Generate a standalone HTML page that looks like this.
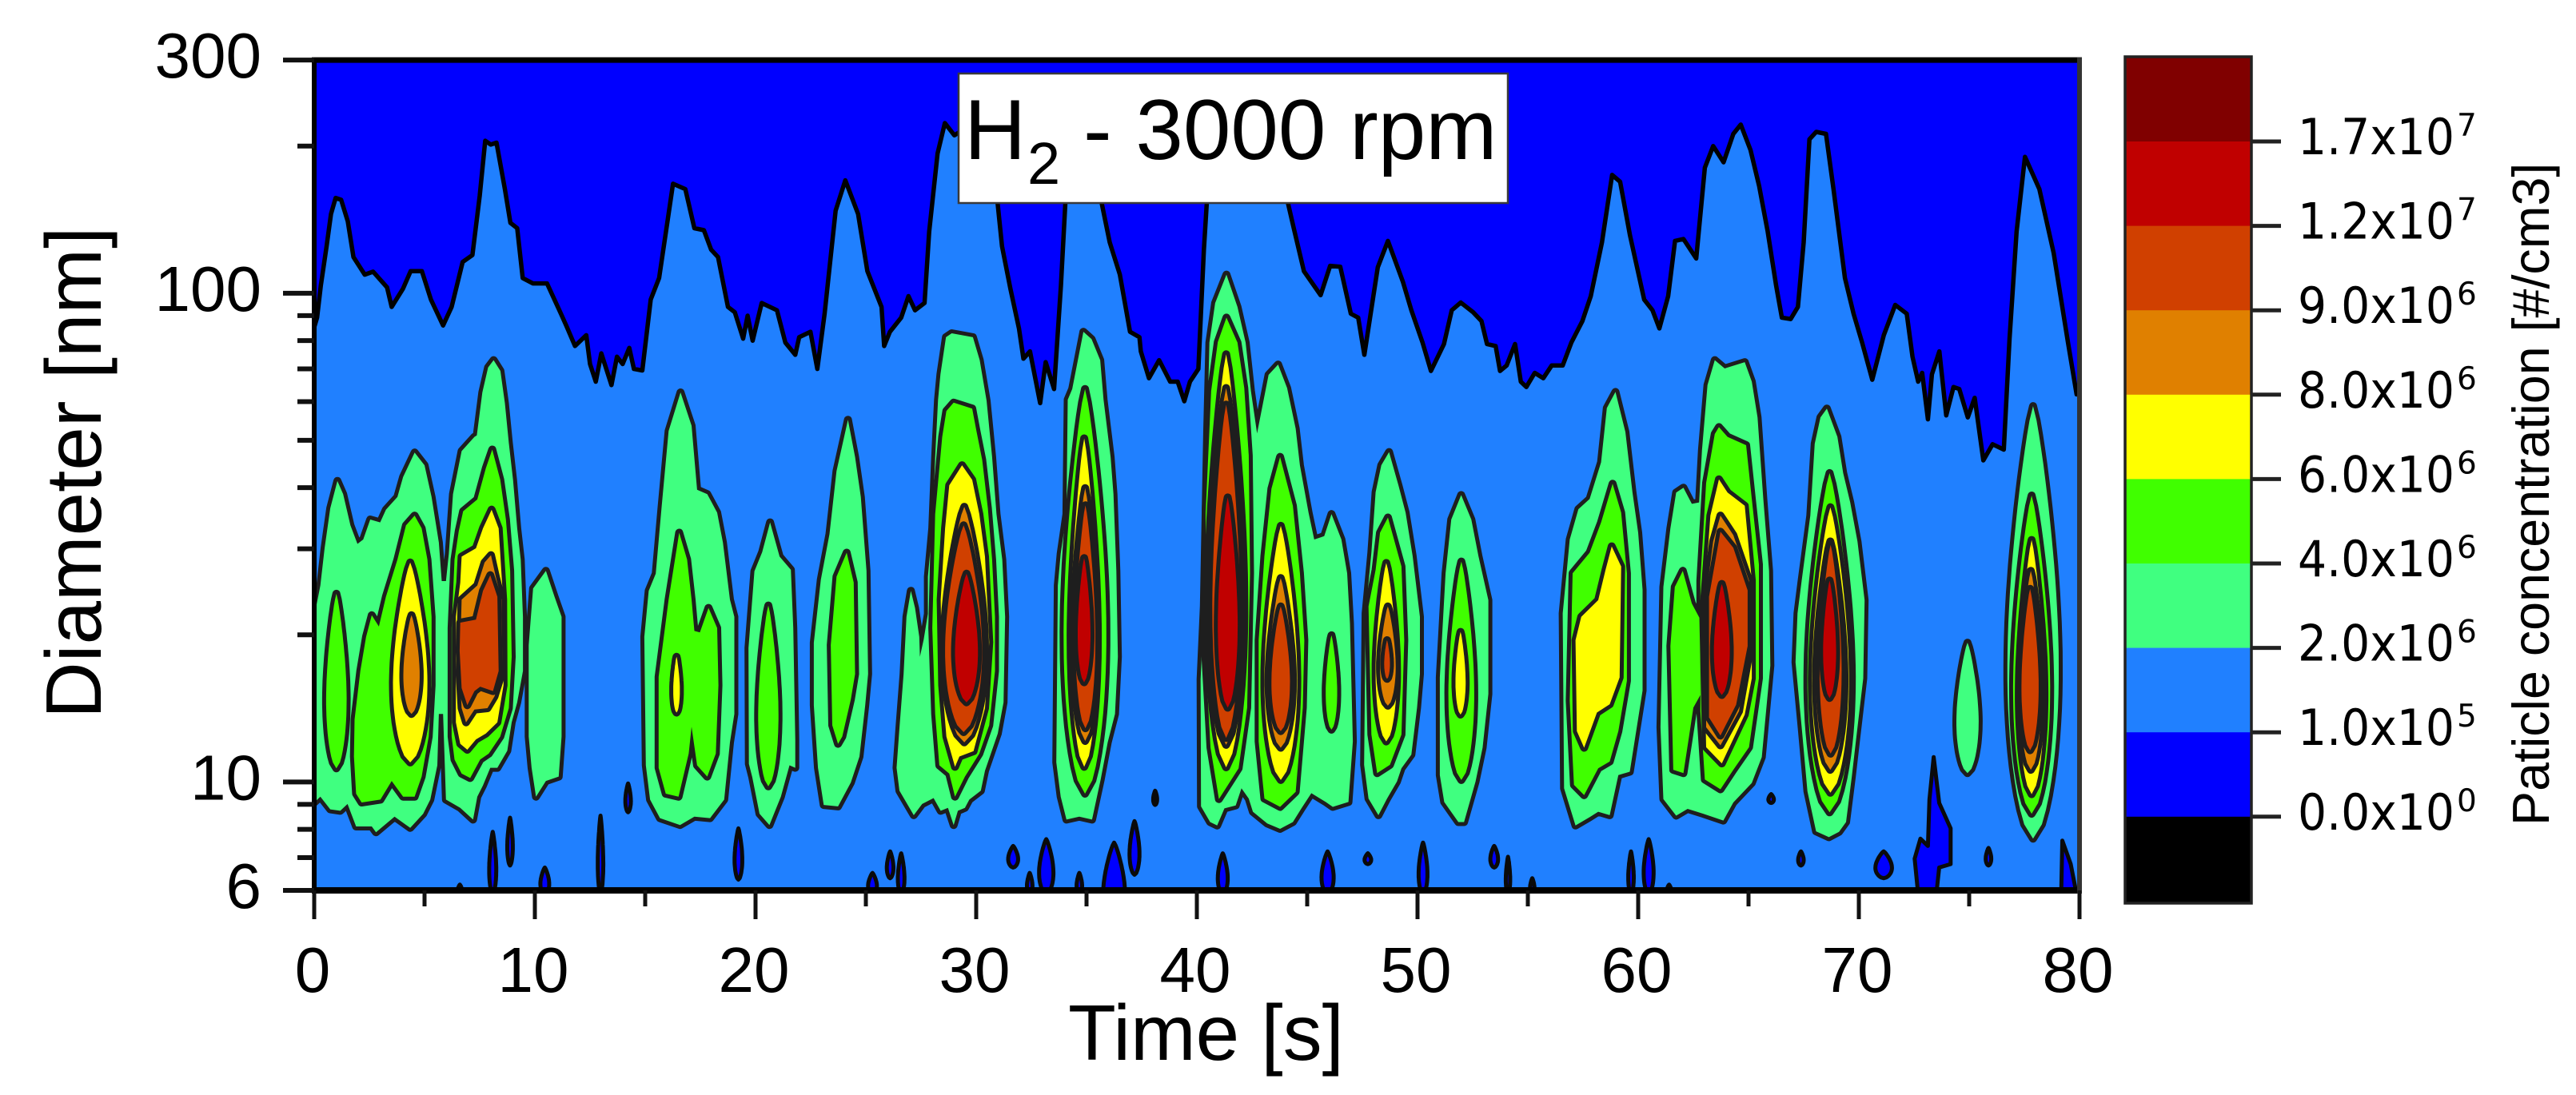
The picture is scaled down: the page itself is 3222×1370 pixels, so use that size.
<!DOCTYPE html>
<html lang="en">
<head>
<meta charset="utf-8">
<title>H2 - 3000 rpm particle concentration contour</title>
<style>
html,body{margin:0;padding:0;background:#fff;}
svg{display:block;}
text{font-family:"Liberation Sans",sans-serif;fill:#000;}
</style>
</head>
<body>
<svg id="chart" xmlns="http://www.w3.org/2000/svg" width="3222" height="1370" viewBox="0 0 3222 1370">
  <defs><clipPath id="plot-clip"><rect x="393" y="75" width="2208" height="1039"/></clipPath></defs>
  <rect x="0" y="0" width="3222" height="1370" fill="#fff"/>
  <g id="plot-marks" clip-path="url(#plot-clip)"></g>
  <g id="axes"></g>
  <g id="colorbar"></g>
  <g>
    <rect x="1199" y="92" width="687" height="162" fill="#fff" stroke="#3a3a3a" stroke-width="2.5"/>
    <text x="1206" y="199" font-size="107">H</text>
    <text x="1285" y="230" font-size="74">2</text>
    <text x="1355" y="199" font-size="107">- 3000 rpm</text>
  </g>
  <text transform="translate(126,899) rotate(-90)" font-size="98">Diameter [nm]</text>
  <text x="1336" y="1326" font-size="98">Time [s]</text>
  <text transform="translate(3188,1033) rotate(-90)" font-size="64.6">Paticle concentration [#/cm3]</text>
</svg>
<script>
// All contour data: [time in s, log10(diameter in nm)].
// Leaves: [time left, time right, log10 top, log10 bottom].

const xMajorTicks = [0, 10, 20, 30, 40, 50, 60, 70, 80];
const xMinorTicks = [5, 15, 25, 35, 45, 55, 65, 75];
const yMajorTicks = [300, 100, 10, 6];
const yMinorTicks = [200, 90, 80, 70, 60, 50, 40, 30, 20, 9, 8, 7];
const colorbarMantissas = ['1.7', '1.2', '9.0', '8.0', '6.0', '4.0', '2.0', '1.0', '0.0'];
const colorbarExponents = ['7', '7', '6', '6', '6', '6', '6', '5', '0'];

const upperContour = [[0,1.93],[.13,1.95],[.3,2.016],[.56,2.096],[.76,2.162],[.97,2.195],[1.22,2.191],[1.52,2.147],[1.78,2.074],[2.29,2.038],[2.67,2.044],[3.3,2.012],[3.51,1.972],[4.02,2.009],[4.37,2.045],[4.88,2.045],[5.29,1.987],[5.84,1.934],[6.23,1.972],[6.73,2.064],[7.17,2.078],[7.5,2.199],[7.75,2.312],[8,2.304],[8.26,2.308],[8.64,2.213],[8.89,2.144],[9.2,2.133],[9.45,2.031],[9.91,2.02],[10.55,2.02],[11.18,1.958],[11.44,1.932],[11.82,1.892],[12.33,1.914],[12.5,1.855],[12.76,1.819],[13.01,1.877],[13.47,1.812],[13.72,1.87],[13.98,1.855],[14.28,1.888],[14.49,1.845],[14.87,1.842],[15.25,1.987],[15.63,2.031],[16.01,2.147],[16.26,2.224],[16.82,2.213],[17.23,2.133],[17.66,2.129],[17.99,2.089],[18.3,2.074],[18.75,1.972],[19.06,1.961],[19.44,1.907],[19.64,1.954],[19.87,1.903],[20.28,1.98],[20.97,1.965],[21.35,1.899],[21.8,1.874],[21.98,1.91],[22.49,1.921],[22.8,1.845],[23.13,1.958],[23.63,2.169],[24.07,2.231],[24.65,2.162],[25.07,2.045],[25.71,1.972],[25.83,1.892],[26.09,1.921],[26.6,1.95],[26.93,1.994],[27.23,1.965],[27.66,1.98],[27.87,2.126],[28.25,2.286],[28.58,2.348],[29.01,2.323],[29.6,2.34],[30.4,2.3],[30.97,2.184],[31.17,2.096],[31.55,2.009],[31.94,1.928],[32.14,1.866],[32.44,1.881],[32.9,1.775],[33.15,1.859],[33.53,1.804],[33.84,2.016],[34.04,2.184],[34.4,2.3],[35,2.32],[35.5,2.25],[35.69,2.184],[36.05,2.104],[36.51,2.038],[36.97,1.921],[37.4,1.91],[37.46,1.881],[37.83,1.826],[38.29,1.863],[38.79,1.819],[39.13,1.819],[39.43,1.779],[39.69,1.819],[40.07,1.845],[40.32,2.089],[40.45,2.184],[41,2.3],[43.5,2.3],[44.13,2.184],[44.39,2.133],[44.85,2.045],[45.61,1.996],[46.04,2.056],[46.5,2.054],[46.98,1.958],[47.31,1.95],[47.59,1.874],[48.2,2.053],[48.66,2.107],[49.34,2.023],[49.72,1.965],[50.23,1.899],[50.61,1.841],[51.2,1.896],[51.55,1.965],[51.96,1.981],[52.52,1.961],[52.9,1.943],[53.15,1.896],[53.54,1.892],[53.74,1.841],[54.04,1.852],[54.42,1.896],[54.68,1.819],[54.93,1.808],[55.31,1.837],[55.7,1.826],[56.08,1.852],[56.58,1.852],[56.97,1.899],[57.47,1.943],[57.85,1.994],[58.36,2.104],[58.82,2.242],[59.18,2.228],[59.63,2.118],[60.27,1.987],[60.65,1.965],[60.96,1.928],[61.36,1.994],[61.67,2.107],[62.05,2.111],[62.63,2.071],[63.02,2.257],[63.4,2.301],[63.87,2.268],[64.31,2.326],[64.65,2.345],[65.09,2.293],[65.48,2.22],[65.87,2.126],[66.25,2.016],[66.51,1.95],[66.91,1.947],[67.24,1.972],[67.5,2.104],[67.76,2.315],[68.07,2.33],[68.51,2.326],[68.85,2.213],[69.37,2.031],[69.76,1.958],[70.15,1.899],[70.61,1.823],[71.13,1.914],[71.65,1.976],[72.17,1.958],[72.43,1.87],[72.69,1.819],[72.87,1.837],[73.13,1.742],[73.31,1.834],[73.65,1.881],[73.96,1.75],[74.29,1.808],[74.55,1.804],[74.94,1.746],[75.25,1.786],[75.64,1.658],[76.06,1.691],[76.57,1.68],[76.83,1.907],[77.15,2.126],[77.53,2.279],[78.18,2.213],[78.83,2.082],[79.48,1.899],[79.87,1.793],[80,1.793]];

const lowIslandLeaves = [[7.93,8.25,.898,.77],[8.75,9,.927,.829],[10.25,10.65,.825,.77],[12.85,13.1,.931,.77],[14.1,14.35,.997,.938],[19.05,19.4,.905,.8],[25.1,25.5,.814,.77],[6.5,6.7,.79,.77],[25.95,26.25,.858,.803],[26.45,26.75,.854,.77],[31.45,31.9,.869,.825],[32.3,32.55,.814,.77],[32.85,33.5,.883,.77],[34.55,34.8,.814,.77],[35.75,36.75,.876,.7],[36.95,37.4,.92,.81],[38.02,38.2,.982,.953],[40.95,41.4,.854,.77],[45.65,46.2,.858,.77],[47.6,47.9,.854,.832],[50.05,50.45,.876,.77],[53.3,53.65,.869,.825],[54,54.2,.847,.77],[55.1,55.3,.803,.77],[59.55,59.8,.858,.77],[60.25,60.7,.883,.77],[61.3,61.5,.79,.77],[65.9,66.15,.975,.957],[67.25,67.5,.858,.829],[70.75,71.5,.858,.803],[75.75,76,.865,.829]];
const lowIslandOutlines = [
 [[73.39,1.051],[73.64,.957],[74.16,.905],[74.16,.832],[73.64,.825],[73.51,.77],[72.69,.77],[72.53,.843],[72.79,.884],[73.13,.869],[73.2,.964]],
 [[79.22,.88],[79.6,.832],[79.87,.77],[79.17,.77]]
];

const mintLeaves = [[74.42,75.43,1.285,1.018],[76.73,79.06,1.769,.884]];
const mintOutlines = [
 [[0,1.338],[.28,1.402],[.47,1.478],[.73,1.56],[1.05,1.616],[1.31,1.589],[1.64,1.525],[1.96,1.487],[2.22,1.496],[2.54,1.537],[2.99,1.531],[3.25,1.557],[3.77,1.583],[4.03,1.624],[4.55,1.674],[5,1.648],[5.32,1.583],[5.65,1.49],[5.78,1.411],[5.97,1.411],[6.1,1.467],[6.29,1.589],[6.68,1.677],[7.26,1.706],[7.37,1.709],[7.62,1.797],[7.88,1.848],[8.13,1.863],[8.44,1.841],[8.64,1.775],[8.82,1.694],[9.01,1.618],[9.2,1.519],[9.36,1.455],[9.46,1.338],[9.46,1.227],[9.2,1.163],[8.95,1.122],[8.75,1.064],[8.3,1.029],[7.98,1.029],[7.65,.993],[7.39,.97],[7.2,.923],[6.62,.947],[5.97,.964],[5.84,1.139],[5.65,1.139],[5.58,1.034],[5.26,.964],[4.94,.935],[4.35,.906],[3.64,.929],[2.8,.897],[2.61,.909],[1.9,.909],[1.51,.955],[1.18,.941],[.73,.944],[.28,.97],[0,.958],[-1,.958],[-1,1.338]],
 [[10.5,1.432],[10.89,1.379],[11.21,1.338],[11.21,1.093],[11.08,1.011],[10.5,1.002],[10.05,.97],[9.85,1.029],[9.72,1.093],[9.72,1.28],[9.92,1.396]],
 [[16.6,1.797],[17.1,1.729],[17.35,1.598],[17.81,1.589],[18.26,1.551],[18.52,1.49],[18.84,1.373],[19.04,1.338],[19.04,1.139],[18.84,1.081],[18.58,.964],[17.94,.926],[17.23,.929],[16.58,.912],[15.67,.926],[15.22,.964],[15.03,1.034],[14.96,1.297],[15.16,1.391],[15.48,1.426],[15.74,1.56],[16.06,1.718]],
 [[20.66,1.531],[21.09,1.461],[21.6,1.434],[21.71,1.315],[21.8,1.087],[21.8,1.029],[21.54,1.034],[21.15,.97],[20.63,.912],[20.18,.935],[19.85,1.01],[19.7,1.037],[19.68,1.274],[19.95,1.431],[20.3,1.47]],
 [[24.19,1.741],[24.51,1.665],[24.77,1.583],[25.03,1.432],[25.1,1.221],[24.97,1.157],[24.71,1.052],[24.32,.999],[23.74,.95],[23.09,.953],[22.83,1.029],[22.64,1.157],[22.64,1.285],[22.96,1.414],[23.35,1.507],[23.67,1.636]],
 [[26.39,1.029],[26.52,1.11],[26.71,1.221],[26.84,1.338],[27.04,1.391],[27.23,1.356],[27.42,1.297],[27.45,1.256],[27.62,1.291],[27.81,1.344],[27.81,1.42],[28.01,1.519],[28.14,1.665],[28.27,1.782],[28.38,1.834],[28.63,1.91],[28.89,1.918],[29.85,1.91],[30.16,1.863],[30.47,1.78],[30.72,1.665],[30.92,1.548],[31.18,1.455],[31.31,1.338],[31.24,1.163],[30.98,1.099],[30.4,1.023],[30.21,.982],[29.69,.964],[29.49,.947],[29.17,.941],[28.98,.912],[28.72,.947],[28.39,.941],[28.07,.967],[27.55,.955],[27.17,.932],[26.52,.982]],
 [[34.86,1.921],[34.35,1.804],[34.15,1.782],[34.09,1.548],[33.83,1.467],[33.7,1.402],[33.63,1.04],[33.83,.97],[34.09,.923],[34.67,.929],[35.25,.923],[35.64,1.005],[35.96,1.081],[36.29,1.139],[36.42,1.256],[36.35,1.432],[36.22,1.589],[36.09,1.665],[35.77,1.782],[35.62,1.863],[35.23,1.906]],
 [[40.19,.95],[40.17,1.21],[40.32,1.36],[40.4,1.55],[40.47,1.72],[40.57,1.899],[40.83,1.98],[41.34,2.038],[41.84,1.972],[42.21,1.899],[42.45,1.8],[42.73,1.713],[43.25,1.833],[43.68,1.854],[44.09,1.806],[44.48,1.723],[44.67,1.648],[45.06,1.551],[45.32,1.496],[45.77,1.503],[46.1,1.548],[46.55,1.496],[46.81,1.427],[46.94,1.324],[47.07,1.083],[46.87,.959],[46.16,.949],[45.84,.959],[45.19,.977],[44.74,.946],[44.35,.918],[43.77,.904],[43.19,.915],[42.54,.939],[42.35,.966],[42.02,.987],[41.76,.952],[41.25,.946],[40.92,.911],[40.6,.918]],
 [[48.71,1.675],[49.14,1.606],[49.46,1.551],[49.78,1.462],[50.11,1.338],[50.11,1.221],[49.98,1.152],[49.72,1.056],[49.27,1.028],[49.07,1.001],[48.62,.966],[48.23,.932],[47.78,.966],[47.58,1.035],[47.65,1.345],[47.91,1.469],[48.1,1.593],[48.36,1.648]],
 [[51.98,1.587],[52.44,1.537],[52.76,1.462],[53.21,1.372],[53.21,1.18],[52.95,1.07],[52.63,1.001],[52.11,.918],[51.85,.918],[51.21,.959],[51.01,1.014],[51.01,1.214],[51.27,1.427],[51.53,1.537]],
 [[58.97,1.798],[59.42,1.716],[59.74,1.593],[60,1.51],[60.2,1.393],[60.2,1.187],[59.62,1.021],[59.1,1.014],[58.71,.932],[58.19,.939],[57.8,.928],[57.16,.911],[56.64,.987],[56.58,1.345],[56.9,1.496],[57.29,1.558],[57.8,1.579],[58.32,1.654],[58.58,1.765]],
 [[62.05,1.602],[62.43,1.569],[62.76,1.572],[62.89,1.679],[63.14,1.812],[63.47,1.863],[63.92,1.846],[64.83,1.859],[65.15,1.819],[65.41,1.746],[65.67,1.579],[65.93,1.432],[65.99,1.238],[65.73,1.112],[65.6,1.051],[65.15,.998],[64.31,.958],[63.86,.921],[62.95,.935],[62.24,.945],[61.72,.931],[61.14,.965],[61.01,1.112],[61.14,1.399],[61.46,1.519],[61.72,1.592]],
 [[68.55,1.764],[69.03,1.706],[69.29,1.632],[69.61,1.572],[69.94,1.492],[70.26,1.372],[70.2,1.212],[69.87,1.085],[69.68,1.011],[69.42,.918],[69.1,.898],[68.64,.887],[68.06,.899],[67.67,.981],[67.41,1.112],[67.13,1.245],[67.22,1.345],[67.41,1.412],[67.8,1.545],[68,1.692],[68.26,1.746]]
];

const greenLeaves = [[.54,1.47,1.385,1.028],[20.12,21.04,1.361,.991],[33.96,35.9,1.804,.976],[45.84,46.36,1.3,1.107],[51.4,52.57,1.451,1.004],[67.67,69.68,1.632,.938],[76.99,78.67,1.586,.935]];
const greenOutlines = [
 [[1.8,1.052],[1.83,1.128],[2.09,1.227],[2.35,1.297],[2.61,1.341],[2.93,1.318],[3.25,1.379],[3.77,1.455],[4.16,1.525],[4.55,1.545],[4.87,1.519],[5.13,1.455],[5.32,1.338],[5.32,1.198],[5.19,1.093],[4.87,1.011],[4.55,.97],[4.03,.97],[3.51,1.002],[3,.964],[2.15,.958],[1.9,.976]],
 [[6.36,1.455],[6.55,1.513],[6.75,1.554],[7.39,1.578],[7.78,1.642],[8.07,1.68],[8.43,1.618],[8.69,1.537],[8.88,1.432],[8.95,1.256],[8.82,1.151],[8.43,1.093],[7.91,1.058],[7.52,1.046],[7.07,1.008],[6.68,1.017],[6.36,1.046],[6.23,1.093],[6.23,1.315]],
 [[16.54,1.51],[16.9,1.455],[17.1,1.373],[17.23,1.309],[17.48,1.306],[17.87,1.356],[18.26,1.315],[18.32,1.198],[18.2,1.058],[17.81,1.011],[17.35,1.034],[17.1,1.113],[16.97,1.058],[16.51,.97],[15.93,.976],[15.61,1.029],[15.61,1.215],[16.06,1.373]],
 [[24.13,1.469],[24.45,1.408],[24.51,1.221],[24.32,1.169],[23.93,1.093],[23.74,1.078],[23.48,1.116],[23.41,1.28],[23.67,1.42]],
 [[28.98,1.776],[29.82,1.764],[30.01,1.718],[30.27,1.659],[30.53,1.56],[30.72,1.455],[30.85,1.338],[30.85,1.227],[30.59,1.116],[30.14,1.058],[29.49,1.011],[29.04,.97],[28.78,1.017],[28.33,1.034],[28.14,1.139],[28.01,1.315],[28.14,1.548],[28.46,1.706],[28.65,1.759]],
 [[41.34,1.95],[41.84,1.899],[42.15,1.806],[42.35,1.668],[42.41,1.427],[42.28,1.152],[41.89,1.028],[41,.965],[40.62,1.07],[40.4,1.25],[40.4,1.55],[40.65,1.8],[40.95,1.9]],
 [[43.77,1.665],[44.35,1.565],[44.67,1.427],[44.87,1.29],[44.8,1.152],[44.48,.98],[43.77,.949],[43.06,.966],[42.8,1.083],[42.8,1.29],[43.06,1.462],[43.38,1.6]],
 [[48.66,1.541],[49.27,1.441],[49.4,1.29],[49.27,1.097],[48.75,1.035],[48.17,1.018],[47.91,1.097],[47.78,1.359],[48.1,1.434],[48.3,1.51]],
 [[58.84,1.61],[59.23,1.551],[59.49,1.427],[59.49,1.207],[59.1,1.104],[58.71,1.042],[58.19,1.028],[57.55,.973],[57.09,.994],[56.9,1.166],[57.03,1.427],[57.8,1.469],[58.32,1.531]],
 [[62.02,1.432],[62.43,1.365],[62.82,1.332],[62.82,1.178],[62.5,1.152],[62.3,1.092],[62.05,1.018],[61.59,1.025],[61.46,1.278],[61.66,1.399]],
 [[63.66,1.726],[64.05,1.706],[64.89,1.689],[65.15,1.579],[65.47,1.445],[65.47,1.212],[65.02,1.071],[64.31,1.025],[63.73,.985],[63.02,1.005],[62.82,1.145],[62.82,1.412],[63.08,1.612],[63.47,1.712]]
];

const yellowLeaves = [[3.57,5.13,1.449,1.04],[16.27,16.57,1.256,1.142],[34.28,35.51,1.703,1.031],[40.5,42.15,1.875,1.03],[43.06,44.55,1.524,1.004],[48.1,49.07,1.448,1.083],[51.72,52.18,1.307,1.138],[67.87,69.55,1.562,.978],[77.25,78.41,1.495,.975]];
const yellowOutlines = [
 [[6.62,1.408],[6.68,1.461],[7.33,1.478],[7.65,1.519],[8.04,1.557],[8.36,1.519],[8.56,1.373],[8.58,1.198],[8.3,1.122],[7.78,1.099],[7.33,1.087],[6.94,1.066],[6.62,1.078],[6.42,1.122],[6.42,1.338]],
 [[29.36,1.648],[29.82,1.618],[30.14,1.548],[30.4,1.461],[30.59,1.286],[30.4,1.151],[29.88,1.063],[29.24,1.052],[29.04,1.031],[28.65,1.093],[28.46,1.198],[28.39,1.373],[28.59,1.519],[28.78,1.607]],
 [[58.8,1.482],[59.23,1.441],[59.16,1.214],[58.71,1.159],[58.13,1.142],[57.55,1.07],[57.22,1.104],[57.16,1.29],[57.42,1.338],[58.19,1.372],[58.52,1.434]],
 [[63.66,1.619],[64.05,1.592],[64.83,1.565],[65.15,1.412],[65.15,1.212],[64.83,1.138],[63.79,1.038],[63.08,1.071],[62.95,1.345],[63.27,1.545]]
];

const orangeLeaves = [[4.04,4.78,1.341,1.139],[28.52,30.4,1.563,1.081],[34.41,35.47,1.601,1.084],[40.6,42.05,1.806,1.076],[43.25,44.35,1.417,1.07],[48.3,49.01,1.359,1.156],[68.06,69.35,1.492,1.025],[77.31,78.28,1.432,1.025]];
const orangeOutlines = [
 [[6.68,1.373],[7.39,1.402],[7.72,1.449],[8.01,1.464],[8.23,1.42],[8.49,1.373],[8.53,1.227],[8.17,1.175],[7.85,1.151],[7.26,1.148],[6.88,1.122],[6.68,1.151],[6.59,1.221]],
 [[63.73,1.545],[64.31,1.505],[65.02,1.412],[65.09,1.278],[64.57,1.145],[63.73,1.075],[63.08,1.112],[63.08,1.379],[63.4,1.492]]
];

const deepOrangeLeaves = [[28.59,30.27,1.525,1.102],[34.5,35.4,1.566,1.11],[40.7,41.95,1.772,1.09],[43.38,44.22,1.359,1.104],[48.49,48.75,1.29,1.211],[68.22,69.22,1.485,1.058],[77.37,78.15,1.395,1.065]];
const deepOrangeOutlines = [
 [[6.62,1.326],[7.33,1.332],[7.65,1.391],[7.98,1.423],[8.3,1.379],[8.36,1.227],[8.1,1.186],[7.52,1.195],[7.26,1.186],[6.94,1.157],[6.68,1.192],[6.59,1.268]],
 [[63.73,1.512],[64.31,1.479],[64.96,1.392],[64.96,1.278],[64.44,1.158],[63.73,1.095],[63.21,1.132],[63.21,1.379]]
];

const redLeaves = [[29.04,30.08,1.426,1.163],[34.6,35.18,1.458,1.204],[40.95,41.85,1.582,1.152],[63.43,64.15,1.405,1.178],[68.38,68.97,1.412,1.172]];
const redOutlines = [];

// Axis functions
function xAxis(t) { return 393 + t * 27.6; }
function yAxisLog(logD) { return 1114 - (logD - Math.log10(6)) * 611.5; }
function yAxis(nm) { return yAxisLog(Math.log10(nm)); }
function colorbarAxis(i) { return 177 + i * 105.6; }

var NS = 'http://www.w3.org/2000/svg';
var plot = document.getElementById('plot-marks');
var axes = document.getElementById('axes');
var cbar = document.getElementById('colorbar');
var LINE = '#1e1e1e';

function outlineToPath(pts) {
  return pts.map(function (p, i) {
    return (i ? 'L' : 'M') + xAxis(p[0]).toFixed(1) + ' ' + yAxisLog(p[1]).toFixed(1);
  }).join(' ') + ' Z';
}
function leafToOutline(leaf) {
  var tc = (leaf[0] + leaf[1]) / 2, hw = (leaf[1] - leaf[0]) / 2;
  var right = [], left = [], n = 30;
  for (var k = 0; k <= n; k++) {
    var u = k / n;
    var w = hw * Math.pow(Math.max(0, Math.sin(Math.PI * Math.pow(u, 1.4))), 0.55);
    var l = leaf[2] + (leaf[3] - leaf[2]) * u;
    right.push([tc + w, l]);
    left.unshift([tc - w, l]);
  }
  return right.concat(left);
}

// Background band and the level above the upper contour
var band = document.createElementNS(NS, 'rect');


band.setAttribute('x', xAxis(0));
band.setAttribute('y', yAxis(300));
band.setAttribute('width', xAxis(80) - xAxis(0));
band.setAttribute('height', yAxis(6) - yAxis(300));
band.setAttribute('fill', '#2080FF');
plot.appendChild(band);

var upperPath = document.createElementNS(NS, 'path');


upperPath.setAttribute('d', outlineToPath(upperContour.concat([[80, Math.log10(300) + 0.02], [0, Math.log10(300) + 0.02]])));
upperPath.setAttribute('fill', '#0000FF');
upperPath.setAttribute('stroke', '#000');
upperPath.setAttribute('stroke-width', '5.5');
upperPath.setAttribute('stroke-linejoin', 'round');
plot.appendChild(upperPath);

// Low-concentration islands near the bottom
lowIslandLeaves.map(leafToOutline).concat(lowIslandOutlines).forEach(function (pts) {
  var island = document.createElementNS(NS, 'path');
  
  
  island.setAttribute('d', outlineToPath(pts));
  island.setAttribute('fill', '#0000FF');
  island.setAttribute('stroke', '#0a0a0a');
  island.setAttribute('stroke-width', '5');
  island.setAttribute('stroke-linejoin', 'round');
  plot.appendChild(island);
});

// Nested contour levels: every level's outline is stroked first, then filled, so merged shapes keep a single edge
var levels = [
  { name: 'level-2e6', fill: '#40FF80', leaves: mintLeaves, outlines: mintOutlines },
  { name: 'level-4e6', fill: '#40FF00', leaves: greenLeaves, outlines: greenOutlines },
  { name: 'level-6e6', fill: '#FFFF00', leaves: yellowLeaves, outlines: yellowOutlines },
  { name: 'level-8e6', fill: '#E08000', leaves: orangeLeaves, outlines: orangeOutlines },
  { name: 'level-9e6', fill: '#D04000', leaves: deepOrangeLeaves, outlines: deepOrangeOutlines },
  { name: 'level-1-2e7', fill: '#C00000', leaves: redLeaves, outlines: redOutlines }
];
levels.forEach(function (level) {
  var shapes = level.outlines.concat(level.leaves.map(leafToOutline));
  var group = document.createElementNS(NS, 'g');
  
  
  shapes.forEach(function (pts) {
    var edge = document.createElementNS(NS, 'path');
    
    
    edge.setAttribute('d', outlineToPath(pts));
    edge.setAttribute('fill', 'none');
    edge.setAttribute('stroke', LINE);
    edge.setAttribute('stroke-width', '10');
    edge.setAttribute('stroke-linejoin', 'round');
    group.appendChild(edge);
  });
  shapes.forEach(function (pts) {
    var area = document.createElementNS(NS, 'path');
    
    
    area.setAttribute('d', outlineToPath(pts));
    area.setAttribute('fill', level.fill);
    group.appendChild(area);
  });
  plot.appendChild(group);
});

// Axes frame
var frameLines = [
  ['axis-top', xAxis(0) - 3, yAxis(300), xAxis(80) + 3, yAxis(300), 7, '#000'],
  ['axis-left', xAxis(0), yAxis(300) - 3, xAxis(0), yAxis(6) + 4, 6, '#000'],
  ['axis-bottom', xAxis(0) - 3, yAxis(6), xAxis(80) + 3, yAxis(6), 8, '#000'],
  ['axis-right', xAxis(80), yAxis(300) - 3, xAxis(80), yAxis(6) + 4, 6, '#333']
];
frameLines.forEach(function (f) {
  var line = document.createElementNS(NS, 'line');
  
  
  line.setAttribute('x1', f[1]);
  line.setAttribute('y1', f[2]);
  line.setAttribute('x2', f[3]);
  line.setAttribute('y2', f[4]);
  line.setAttribute('stroke-width', f[5]);
  line.setAttribute('stroke', f[6]);
  axes.appendChild(line);
});

// X ticks
xMajorTicks.forEach(function (v) {
  var tick = document.createElementNS(NS, 'line');
  
  
  tick.setAttribute('x1', xAxis(v));
  tick.setAttribute('x2', xAxis(v));
  tick.setAttribute('y1', yAxis(6));
  tick.setAttribute('y2', 1150);
  tick.setAttribute('stroke', '#111');
  tick.setAttribute('stroke-width', '5');
  axes.appendChild(tick);
  var label = document.createElementNS(NS, 'text');
  
  
  label.setAttribute('x', xAxis(v) - 2);
  label.setAttribute('y', 1241);
  label.setAttribute('font-size', '80');
  label.setAttribute('text-anchor', 'middle');
  label.textContent = String(v);
  axes.appendChild(label);
});
xMinorTicks.forEach(function (v) {
  var tick = document.createElementNS(NS, 'line');
  
  
  tick.setAttribute('x1', xAxis(v));
  tick.setAttribute('x2', xAxis(v));
  tick.setAttribute('y1', yAxis(6));
  tick.setAttribute('y2', 1134);
  tick.setAttribute('stroke', '#111');
  tick.setAttribute('stroke-width', '5');
  axes.appendChild(tick);
});

// Y ticks
yMajorTicks.forEach(function (v) {
  var tick = document.createElementNS(NS, 'line');
  
  
  tick.setAttribute('x1', 354);
  tick.setAttribute('x2', xAxis(0));
  tick.setAttribute('y1', yAxis(v));
  tick.setAttribute('y2', yAxis(v));
  tick.setAttribute('stroke', '#111');
  tick.setAttribute('stroke-width', '6');
  axes.appendChild(tick);
  var label = document.createElementNS(NS, 'text');
  
  
  label.setAttribute('x', 327);
  label.setAttribute('y', yAxis(v) + 22);
  label.setAttribute('font-size', '80');
  label.setAttribute('text-anchor', 'end');
  label.textContent = String(v);
  axes.appendChild(label);
});
yMinorTicks.forEach(function (v) {
  var tick = document.createElementNS(NS, 'line');
  
  
  tick.setAttribute('x1', 372);
  tick.setAttribute('x2', xAxis(0));
  tick.setAttribute('y1', yAxis(v));
  tick.setAttribute('y2', yAxis(v));
  tick.setAttribute('stroke', '#111');
  tick.setAttribute('stroke-width', '6');
  axes.appendChild(tick);
});

// Colorbar
var bandFills = ['#800000', '#C00000', '#D04000', '#E08000', '#FFFF00', '#40FF00', '#40FF80', '#2080FF', '#0000FF', '#000000'];
bandFills.forEach(function (fill, i) {
  var swatch = document.createElementNS(NS, 'rect');
  
  
  swatch.setAttribute('x', 2658);
  swatch.setAttribute('width', 158);
  swatch.setAttribute('y', colorbarAxis(i - 1));
  swatch.setAttribute('height', colorbarAxis(i) - colorbarAxis(i - 1) + 3);
  swatch.setAttribute('fill', fill);
  cbar.appendChild(swatch);
});
var cbFrame = document.createElementNS(NS, 'rect');


cbFrame.setAttribute('x', 2658);
cbFrame.setAttribute('y', 71);
cbFrame.setAttribute('width', 158);
cbFrame.setAttribute('height', 1059);
cbFrame.setAttribute('fill', 'none');
cbFrame.setAttribute('stroke', '#222');
cbFrame.setAttribute('stroke-width', '3.5');
cbar.appendChild(cbFrame);
colorbarMantissas.forEach(function (m, i) {
  var tick = document.createElementNS(NS, 'line');
  
  
  tick.setAttribute('x1', 2816);
  tick.setAttribute('x2', 2853);
  tick.setAttribute('y1', colorbarAxis(i));
  tick.setAttribute('y2', colorbarAxis(i));
  tick.setAttribute('stroke', '#222');
  tick.setAttribute('stroke-width', '5');
  cbar.appendChild(tick);
  var label = document.createElementNS(NS, 'text');
  
  
  label.setAttribute('x', 2874);
  label.setAttribute('y', colorbarAxis(i) + 16);
  label.setAttribute('font-size', '62');
  label.setAttribute('style', 'font-family:"DejaVu Sans",sans-serif');
  label.setAttribute('textLength', '196');
  label.setAttribute('lengthAdjust', 'spacingAndGlyphs');
  label.textContent = m + 'x10';
  cbar.appendChild(label);
  var sup = document.createElementNS(NS, 'text');
  
  
  sup.setAttribute('x', 3073);
  sup.setAttribute('y', colorbarAxis(i) - 7);
  sup.setAttribute('font-size', '39');
  sup.setAttribute('style', 'font-family:"DejaVu Sans",sans-serif');
  sup.textContent = colorbarExponents[i];
  cbar.appendChild(sup);
});
</script>
</body>
</html>
